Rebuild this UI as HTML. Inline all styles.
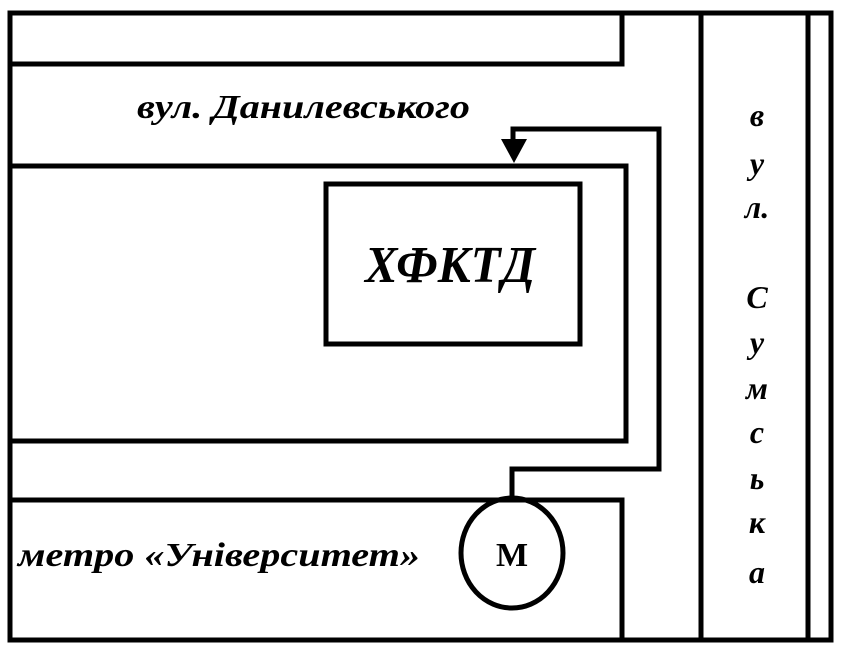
<!DOCTYPE html>
<html><head><meta charset="utf-8"><style>
html,body{margin:0;padding:0;background:#fff;}
svg text{font-family:"Liberation Serif","DejaVu Serif",serif;font-weight:bold;fill:#000;}
</style></head><body>
<svg width="847" height="661" viewBox="0 0 847 661" xmlns="http://www.w3.org/2000/svg">
<g fill="none" stroke="#000" stroke-width="5">
<rect x="10" y="13" width="821" height="627"/>
<polyline points="10,64 622,64 622,13"/>
<polyline points="10,166 626,166 626,441 10,441"/>
<polyline points="10,500 622,500 622,640"/>
<line x1="701" y1="13" x2="701" y2="640"/>
<line x1="808" y1="13" x2="808" y2="640"/>
<rect x="326" y="184" width="254" height="160"/>
<polyline points="512,498 512,469 659,469 659,129 513,129 513,142"/>
<ellipse cx="512" cy="553" rx="51" ry="55"/>
</g>
<polygon points="501,139 527,139 514,163" fill="#000"/>
<text x="137" y="118" font-size="34" font-style="italic" textLength="333" lengthAdjust="spacingAndGlyphs">вул. Данилевського</text>
<text x="365" y="282" font-size="52" font-style="italic" textLength="170" lengthAdjust="spacingAndGlyphs">ХФКТД</text>
<text x="18" y="566" font-size="34" font-style="italic" textLength="402" lengthAdjust="spacingAndGlyphs">метро «Університет»</text>
<text x="512" y="566" font-size="34" text-anchor="middle">М</text>
<g font-size="32" font-style="italic" text-anchor="middle">
<text x="757" y="126">в</text>
<text x="757" y="174">у</text>
<text x="757" y="218">л.</text>
<text x="757" y="308">С</text>
<text x="757" y="353">у</text>
<text x="757" y="399">м</text>
<text x="757" y="443">с</text>
<text x="757" y="489">ь</text>
<text x="757" y="533">к</text>
<text x="757" y="583">а</text>
</g>
</svg>
</body></html>
